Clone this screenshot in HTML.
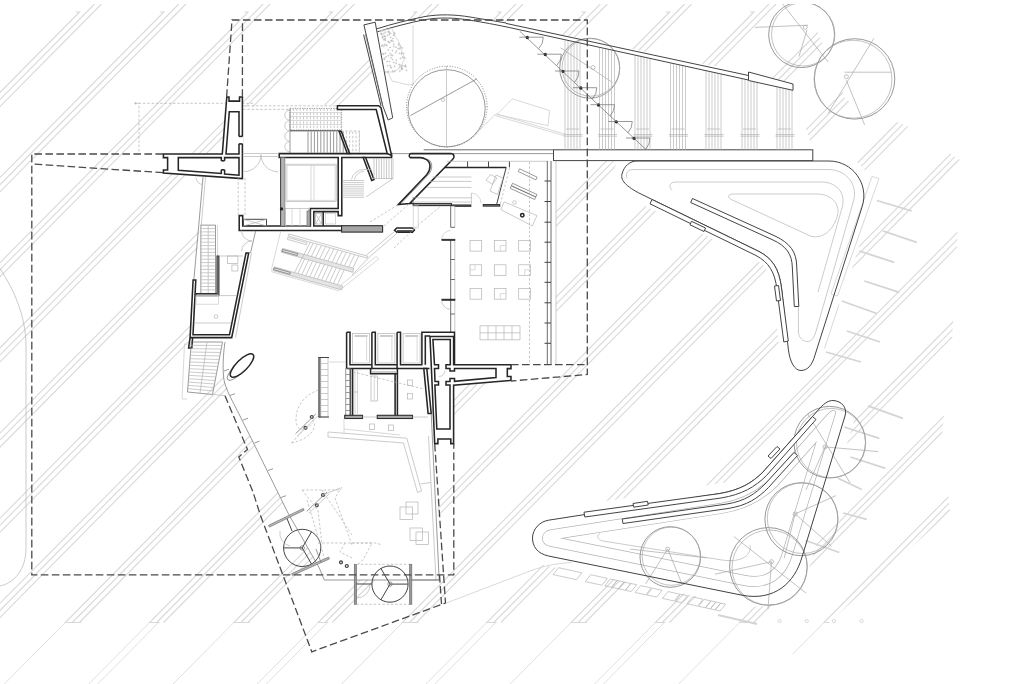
<!DOCTYPE html>
<html><head><meta charset="utf-8"><title>Plan</title>
<style>
html,body{margin:0;padding:0;background:#fff;}
body{width:1011px;height:684px;overflow:hidden;font-family:"Liberation Sans",sans-serif;}
svg{display:block;}
path,line,circle,rect,ellipse,polyline{fill:none;stroke-linecap:butt;stroke-linejoin:miter;}
.h{stroke:#d9d9d9;stroke-width:1.1;}
.h2{stroke:#e0e0e0;stroke-width:1;}
.mask{fill:#fff;stroke:none;}
.w{stroke:#262626;stroke-width:1.55;}
.wf{stroke:#262626;stroke-width:1.55;fill:#fff;}
.wg{stroke:#2e2e2e;stroke-width:1.1;fill:#a6a6a6;}
.m{stroke:#444;stroke-width:1;}
.mf{stroke:#444;stroke-width:1;fill:#fff;}
.t{stroke:#6e6e6e;stroke-width:.7;}
.t2{stroke:#5a5a5a;stroke-width:.9;}
.tf{stroke:#6e6e6e;stroke-width:.7;fill:#fff;}
.l{stroke:#b4b4b4;stroke-width:.7;}
.lf{stroke:#b4b4b4;stroke-width:.7;fill:#fff;}
.ll{stroke:#cfcfcf;stroke-width:.8;}
.pk{stroke:#d4d4d4;stroke-width:1.8;}
.d{stroke:#4a4a4a;stroke-width:1.3;stroke-dasharray:7.6 3.4;}
.dl{stroke:#b0b0b0;stroke-width:.7;stroke-dasharray:2.5 1.8;}
.dt{stroke:#7a7a7a;stroke-width:.9;stroke-dasharray:1 1.6;}
.tr{stroke:#7d7d7d;stroke-width:.8;}
.tr2{stroke:#a8a8a8;stroke-width:.7;}
</style></head>
<body><svg width="1011" height="684" viewBox="0 0 1011 684">
<rect x="0" y="0" width="1011" height="684" fill="#fff" stroke="none"/>
<defs><clipPath id="hc"><path d="M0,4 L806,4 L846,100 L909,127 L960,160 L957,250 L952,342 L942,434 L950,512 L796,653 L724,684 L0,684 Z"/></clipPath></defs>
<g clip-path="url(#hc)">
<path class="h" d="M75.6,12.0 L79.6,12.0 L-524.8,622.5 L-514.8,622.5" />
<line class="h2" x1="-524.8" y1="622.5" x2="-585.7" y2="684.0"/>
<line class="h" x1="94.5" y1="4.0" x2="-517.8" y2="622.5"/>
<line class="h" x1="101.5" y1="4.0" x2="-510.8" y2="622.5"/>
<line class="h2" x1="-515.8" y1="622.5" x2="-576.7" y2="684.0"/>
<path class="h" d="M159.9,12.0 L163.9,12.0 L-440.5,622.5 L-424.5,622.5" />
<line class="h2" x1="-440.5" y1="622.5" x2="-501.4" y2="684.0"/>
<line class="h" x1="178.8" y1="4.0" x2="-433.5" y2="622.5"/>
<line class="h" x1="185.8" y1="4.0" x2="-426.5" y2="622.5"/>
<path class="h" d="M244.2,12.0 L248.2,12.0 L-356.2,622.5 L-346.2,622.5" />
<line class="h2" x1="-356.2" y1="622.5" x2="-417.1" y2="684.0"/>
<line class="h" x1="263.1" y1="4.0" x2="-349.2" y2="622.5"/>
<line class="h" x1="270.1" y1="4.0" x2="-342.2" y2="622.5"/>
<line class="h2" x1="-347.2" y1="622.5" x2="-408.1" y2="684.0"/>
<path class="h" d="M328.5,12.0 L332.5,12.0 L-271.9,622.5 L-255.9,622.5" />
<line class="h2" x1="-271.9" y1="622.5" x2="-332.8" y2="684.0"/>
<line class="h" x1="347.4" y1="4.0" x2="-264.9" y2="622.5"/>
<line class="h" x1="354.4" y1="4.0" x2="-257.9" y2="622.5"/>
<path class="h" d="M412.8,12.0 L416.8,12.0 L-187.6,622.5 L-177.6,622.5" />
<line class="h2" x1="-187.6" y1="622.5" x2="-248.5" y2="684.0"/>
<line class="h" x1="431.7" y1="4.0" x2="-180.6" y2="622.5"/>
<line class="h" x1="438.7" y1="4.0" x2="-173.6" y2="622.5"/>
<line class="h2" x1="-178.6" y1="622.5" x2="-239.5" y2="684.0"/>
<path class="h" d="M497.1,12.0 L501.1,12.0 L-103.3,622.5 L-87.3,622.5" />
<line class="h2" x1="-103.3" y1="622.5" x2="-164.2" y2="684.0"/>
<line class="h" x1="516.0" y1="4.0" x2="-96.3" y2="622.5"/>
<line class="h" x1="523.0" y1="4.0" x2="-89.3" y2="622.5"/>
<path class="h" d="M581.4,12.0 L585.4,12.0 L-19.0,622.5 L-9.0,622.5" />
<line class="h2" x1="-19.0" y1="622.5" x2="-79.9" y2="684.0"/>
<line class="h" x1="600.3" y1="4.0" x2="-12.0" y2="622.5"/>
<line class="h" x1="607.3" y1="4.0" x2="-5.0" y2="622.5"/>
<line class="h2" x1="-10.0" y1="622.5" x2="-70.9" y2="684.0"/>
<path class="h" d="M665.7,12.0 L669.7,12.0 L65.3,622.5 L81.3,622.5" />
<line class="h2" x1="65.3" y1="622.5" x2="4.4" y2="684.0"/>
<line class="h" x1="684.6" y1="4.0" x2="72.3" y2="622.5"/>
<line class="h" x1="691.6" y1="4.0" x2="79.3" y2="622.5"/>
<path class="h" d="M750.0,12.0 L754.0,12.0 L149.6,622.5 L159.6,622.5" />
<line class="h2" x1="149.6" y1="622.5" x2="88.7" y2="684.0"/>
<line class="h" x1="768.9" y1="4.0" x2="156.6" y2="622.5"/>
<line class="h" x1="775.9" y1="4.0" x2="163.6" y2="622.5"/>
<line class="h2" x1="158.6" y1="622.5" x2="97.7" y2="684.0"/>
<path class="h" d="M834.3,12.0 L838.3,12.0 L233.9,622.5 L249.9,622.5" />
<line class="h2" x1="233.9" y1="622.5" x2="173.0" y2="684.0"/>
<line class="h" x1="853.2" y1="4.0" x2="240.9" y2="622.5"/>
<line class="h" x1="860.2" y1="4.0" x2="247.9" y2="622.5"/>
<path class="h" d="M918.6,12.0 L922.6,12.0 L318.2,622.5 L328.2,622.5" />
<line class="h2" x1="318.2" y1="622.5" x2="257.3" y2="684.0"/>
<line class="h" x1="937.5" y1="4.0" x2="325.2" y2="622.5"/>
<line class="h" x1="944.5" y1="4.0" x2="332.2" y2="622.5"/>
<line class="h2" x1="327.2" y1="622.5" x2="266.3" y2="684.0"/>
<path class="h" d="M1002.9,12.0 L1006.9,12.0 L402.5,622.5 L418.5,622.5" />
<line class="h2" x1="402.5" y1="622.5" x2="341.6" y2="684.0"/>
<line class="h" x1="1021.8" y1="4.0" x2="409.5" y2="622.5"/>
<line class="h" x1="1028.8" y1="4.0" x2="416.5" y2="622.5"/>
<path class="h" d="M1087.2,12.0 L1091.2,12.0 L486.8,622.5 L496.8,622.5" />
<line class="h2" x1="486.8" y1="622.5" x2="425.9" y2="684.0"/>
<line class="h" x1="1106.1" y1="4.0" x2="493.8" y2="622.5"/>
<line class="h" x1="1113.1" y1="4.0" x2="500.8" y2="622.5"/>
<line class="h2" x1="495.8" y1="622.5" x2="434.9" y2="684.0"/>
<path class="h" d="M1171.5,12.0 L1175.5,12.0 L571.1,622.5 L587.1,622.5" />
<line class="h2" x1="571.1" y1="622.5" x2="510.2" y2="684.0"/>
<line class="h" x1="1190.4" y1="4.0" x2="578.1" y2="622.5"/>
<line class="h" x1="1197.4" y1="4.0" x2="585.1" y2="622.5"/>
<path class="h" d="M1255.8,12.0 L1259.8,12.0 L655.4,622.5 L665.4,622.5" />
<line class="h2" x1="655.4" y1="622.5" x2="594.5" y2="684.0"/>
<line class="h" x1="1274.7" y1="4.0" x2="662.4" y2="622.5"/>
<line class="h" x1="1281.7" y1="4.0" x2="669.4" y2="622.5"/>
<line class="h2" x1="664.4" y1="622.5" x2="603.5" y2="684.0"/>
<path class="h" d="M1340.1,12.0 L1344.1,12.0 L739.7,622.5 L755.7,622.5" />
<line class="h2" x1="739.7" y1="622.5" x2="678.8" y2="684.0"/>
<line class="h" x1="1359.0" y1="4.0" x2="746.7" y2="622.5"/>
<line class="h" x1="1366.0" y1="4.0" x2="753.7" y2="622.5"/>
<path class="h" d="M1424.4,12.0 L1428.4,12.0 L824.0,622.5 L834.0,622.5" />
<line class="h2" x1="824.0" y1="622.5" x2="763.1" y2="684.0"/>
<line class="h" x1="1443.3" y1="4.0" x2="831.0" y2="622.5"/>
<line class="h" x1="1450.3" y1="4.0" x2="838.0" y2="622.5"/>
<line class="h2" x1="833.0" y1="622.5" x2="772.1" y2="684.0"/>
<path class="h" d="M1508.7,12.0 L1512.7,12.0 L908.3,622.5 L924.3,622.5" />
<line class="h2" x1="908.3" y1="622.5" x2="847.4" y2="684.0"/>
<line class="h" x1="1527.6" y1="4.0" x2="915.3" y2="622.5"/>
<line class="h" x1="1534.6" y1="4.0" x2="922.3" y2="622.5"/>
<path class="h" d="M1593.0,12.0 L1597.0,12.0 L992.6,622.5 L1002.6,622.5" />
<line class="h2" x1="992.6" y1="622.5" x2="931.7" y2="684.0"/>
<line class="h" x1="1611.9" y1="4.0" x2="999.6" y2="622.5"/>
<line class="h" x1="1618.9" y1="4.0" x2="1006.6" y2="622.5"/>
<line class="h2" x1="1001.6" y1="622.5" x2="940.7" y2="684.0"/>
</g>
<path class="mask" d="M163.0,153.5 L222.0,153.5 L227.0,96.0 L243.0,96.0 L243.0,107.0 L338.0,105.0 L378.0,105.0 L364.0,25.0 L375.0,22.0 L377.0,29.0 L400.0,21.0 L425.0,16.5 L450.0,15.0 L480.0,19.0 L506.0,23.0 L748.0,73.0 L793.0,84.0 L793.0,90.0 L813.0,150.0 L813.0,161.0 L556.0,161.0 L556.0,365.0 L511.0,365.0 L511.0,381.0 L454.0,385.0 L454.0,444.0 L436.0,444.0 L439.0,580.0 L324.0,580.0 L319.0,568.0 L288.0,513.0 L253.0,442.0 L224.0,380.0 L225.0,342.0 L190.0,342.0 L191.0,335.0 L194.0,280.0 L201.0,215.0 L203.0,177.0 L163.0,173.0 Z" />
<path class="mask" d="M637,161 L829,161 C852.6,161 869.4,184 862.2,206.5 L815,355 C812,366 807,370.5 801,370.5 C795,370.5 790,363 788.3,349 L781.5,288 C779,268 772,258 758,251 L644,195.5 C628,188 620,181 622,174 C624,166 630,161 637,161 Z" style="stroke:#fff;stroke-width:18;stroke-linejoin:round"/>
<defs><clipPath id="c1"><path d="M637,161 L829,161 C852.6,161 869.4,184 862.2,206.5 L815,355 C812,366 807,370.5 801,370.5 C795,370.5 790,363 788.3,349 L781.5,288 C779,268 772,258 758,251 L644,195.5 C628,188 620,181 622,174 C624,166 630,161 637,161 Z"/></clipPath><clipPath id="c2"><path d="M548.5,520.2 L720,493.5 C740,490 752,483 763,472 L820,408 C825,402.5 829,400.5 833,400.5 C842,401 847.5,408 845,416 L802,557 C795,582 775,602 741,595 L548.5,556 C537,553.5 532.5,546 532.5,538 C532.5,529 540,521.5 548.5,520.2 Z"/></clipPath></defs>
<path class="l" d="M627,178.5 C625,172 628,169.5 634,169.5 L829,169.5 C847,170 858,185 853.5,201 L815.5,333 C813,340 810.5,341.5 807.5,341.5 C803,341.5 798.5,338 798.4,331 L798.4,306.5" />
<path class="l" d="M672,190.5 C668,186 670,182 676,182 L823,182 C838,183 846,194 842,208 L818,292" />
<path class="l" d="M731.5,199.6 C727,197.5 728,194 733,194 L818,194 C833,195 841,205 837,217 C833,230 823,239 811,236.3 Z" />
<path class="ll" d="M872.0,176.5 L879.0,178.5 L837.5,296.0 L831.0,294.0 Z" />
<line class="ll" x1="839.0" y1="304.5" x2="824.5" y2="348.5"/>
<line class="pk" x1="876.8" y1="200.5" x2="911.8" y2="211.0"/>
<line class="pk" x1="883.0" y1="231.0" x2="916.8" y2="242.3"/>
<line class="pk" x1="859.3" y1="251.0" x2="894.3" y2="262.3"/>
<line class="pk" x1="864.3" y1="281.0" x2="899.3" y2="292.3"/>
<line class="pk" x1="841.8" y1="301.0" x2="876.8" y2="313.5"/>
<line class="pk" x1="846.8" y1="331.0" x2="880.0" y2="342.0"/>
<line class="pk" x1="826.0" y1="352.0" x2="861.0" y2="362.0"/>
<path class="mask" d="M548.5,520.2 L720,493.5 C740,490 752,483 763,472 L820,408 C825,402.5 829,400.5 833,400.5 C842,401 847.5,408 845,416 L802,557 C795,582 775,602 741,595 L548.5,556 C537,553.5 532.5,546 532.5,538 C532.5,529 540,521.5 548.5,520.2 Z" style="stroke:#fff;stroke-width:20;stroke-linejoin:round"/>
<g clip-path="url(#c2)">
<path class="l" d="M548.5,520.2 L720,493.5 C740,490 752,483 763,472 L820,408 C825,402.5 829,400.5 833,400.5 C842,401 847.5,408 845,416 L802,557 C795,582 775,602 741,595 L548.5,556 C537,553.5 532.5,546 532.5,538 C532.5,529 540,521.5 548.5,520.2 Z" style="stroke-width:40.7;stroke-linejoin:round"/>
<path class="l" d="M548.5,520.2 L720,493.5 C740,490 752,483 763,472 L820,408 C825,402.5 829,400.5 833,400.5 C842,401 847.5,408 845,416 L802,557 C795,582 775,602 741,595 L548.5,556 C537,553.5 532.5,546 532.5,538 C532.5,529 540,521.5 548.5,520.2 Z" style="stroke:#fff;stroke-width:39.3;stroke-linejoin:round"/>
<path class="l" d="M548.5,520.2 L720,493.5 C740,490 752,483 763,472 L820,408 C825,402.5 829,400.5 833,400.5 C842,401 847.5,408 845,416 L802,557 C795,582 775,602 741,595 L548.5,556 C537,553.5 532.5,546 532.5,538 C532.5,529 540,521.5 548.5,520.2 Z" style="stroke-width:20.3;stroke-linejoin:round"/>
<path class="l" d="M548.5,520.2 L720,493.5 C740,490 752,483 763,472 L820,408 C825,402.5 829,400.5 833,400.5 C842,401 847.5,408 845,416 L802,557 C795,582 775,602 741,595 L548.5,556 C537,553.5 532.5,546 532.5,538 C532.5,529 540,521.5 548.5,520.2 Z" style="stroke:#fff;stroke-width:18.9;stroke-linejoin:round"/>
</g>
<path class="l" d="M600,534 C596,535 597,540 603,541 L722,560 C742,563 752,555 750,545" />
<line class="pk" x1="868.0" y1="405.8" x2="903.0" y2="418.3"/>
<line class="pk" x1="844.3" y1="427.0" x2="879.3" y2="438.3"/>
<line class="pk" x1="850.5" y1="457.0" x2="885.5" y2="468.3"/>
<line class="pk" x1="838.0" y1="478.3" x2="861.8" y2="489.5"/>
<line class="pk" x1="843.0" y1="513.0" x2="866.8" y2="519.3"/>
<line class="pk" x1="805.5" y1="540.5" x2="839.3" y2="552.5"/>
<circle class="tr" cx="801.6" cy="34.7" r="32.9" />
<circle class="tr2" cx="803.2" cy="34.3" r="31.7" />
<circle class="tr2" cx="805.2" cy="27.4" r="2.0" />
<line class="tr2" x1="755.0" y1="27.4" x2="808.0" y2="25.2"/>
<line class="tr2" x1="782.4" y1="3.7" x2="828.1" y2="62.1"/>
<line class="tr2" x1="807.0" y1="30.0" x2="798.9" y2="56.6"/>
<circle class="tr" cx="854.6" cy="78.9" r="40.2" />
<circle class="tr2" cx="853.0" cy="79.2" r="39.0" />
<circle class="tr2" cx="846.4" cy="76.7" r="2.0" />
<line class="tr2" x1="844.5" y1="72.2" x2="891.1" y2="72.2"/>
<line class="tr2" x1="873.8" y1="38.4" x2="828.1" y2="113.3"/>
<line class="tr2" x1="846.4" y1="80.4" x2="864.6" y2="124.8"/>
<circle class="tr" cx="589.7" cy="68.2" r="30.0" />
<circle class="tr2" cx="590.9" cy="67.4" r="28.8" />
<circle class="tr2" cx="593.0" cy="67.5" r="2.0" />
<line class="tr2" x1="560.5" y1="47.8" x2="613.0" y2="82.8"/>
<circle class="tr" cx="670.3" cy="557.0" r="30.3" />
<circle class="tr2" cx="671.3" cy="556.2" r="29.1" />
<circle class="tr2" cx="667.7" cy="549.1" r="2.0" />
<line class="tr2" x1="630.0" y1="549.1" x2="707.0" y2="557.9"/>
<line class="tr2" x1="667.7" y1="549.1" x2="645.7" y2="583.7"/>
<line class="tr2" x1="667.7" y1="549.1" x2="681.9" y2="583.7"/>
<circle class="tr" cx="768.4" cy="566.4" r="38.8" />
<circle class="tr2" cx="769.6" cy="567.6" r="37.6" />
<circle class="tr2" cx="771.5" cy="561.7" r="2.0" />
<line class="tr2" x1="733.8" y1="536.5" x2="806.1" y2="593.1"/>
<line class="tr2" x1="771.5" y1="561.7" x2="714.9" y2="574.2"/>
<line class="tr2" x1="771.5" y1="561.7" x2="768.0" y2="609.0"/>
<circle class="tr" cx="801.4" cy="519.2" r="36.5" />
<circle class="tr2" cx="802.6" cy="518.2" r="35.3" />
<circle class="tr2" cx="795.1" cy="513.9" r="2.0" />
<line class="tr2" x1="795.1" y1="513.9" x2="836.0" y2="495.6"/>
<line class="tr2" x1="795.1" y1="513.9" x2="831.3" y2="546.0"/>
<line class="tr2" x1="795.1" y1="513.9" x2="784.1" y2="558.5"/>
<circle class="tr" cx="829.7" cy="442.2" r="35.8" />
<circle class="tr2" cx="831.1" cy="443.0" r="34.6" />
<circle class="tr2" cx="825.0" cy="446.9" r="2.0" />
<line class="tr2" x1="807.7" y1="413.9" x2="850.1" y2="483.0"/>
<line class="tr2" x1="825.0" y1="446.9" x2="878.4" y2="451.6"/>
<line class="tr2" x1="825.0" y1="446.9" x2="806.0" y2="490.0"/>
<rect class="mask" x="0.0" y="0.0" width="1011.0" height="4.0" />
<path class="m" d="M637,161 L829,161 C852.6,161 869.4,184 862.2,206.5 L815,355 C812,366 807,370.5 801,370.5 C795,370.5 790,363 788.3,349 L781.5,288 C779,268 772,258 758,251 L644,195.5 C628,188 620,181 622,174 C624,166 630,161 637,161 Z" />
<path class="m" d="M548.5,520.2 L720,493.5 C740,490 752,483 763,472 L820,408 C825,402.5 829,400.5 833,400.5 C842,401 847.5,408 845,416 L802,557 C795,582 775,602 741,595 L548.5,556 C537,553.5 532.5,546 532.5,538 C532.5,529 540,521.5 548.5,520.2 Z" />
<path class="mf" d="M652,199.5 L758,251 C772,258 779,268 781.5,288 L788.3,341 L783.8,342 L777,290 C775,272 769,262.5 756,255.5 L650,203.8 Z" />
<path class="mf" d="M692.5,198.5 L775,236 C790,243 796.5,252 796.7,266 L798.8,306.5 L794.3,306.5 L792.3,267 C792,254 786,246 773,240 L690.7,202.5 Z" />
<path class="mf" d="M691.5,221.3 L705.5,228.0 L704.0,231.5 L690.0,224.8 Z" />
<path class="mf" d="M774.5,286.0 L778.5,285.5 L780.5,300.5 L776.5,301.0 Z" />
<path class="mf" d="M584,512.2 L720,493.5 C740,490 752,483 763,472 L812.5,416.5 L816,419.5 L766.5,475.5 C755,487 742,494.5 721,498 L584.8,517 Z" />
<path class="mf" d="M622.2,519 L727,504 C745,501 755,494 765,484 L794,452.5 L797.5,455.5 L768.5,487.5 C757.5,498.5 747,505.5 728,508.5 L623,523.5 Z" />
<path class="mf" d="M633.0,503.5 L647.5,501.3 L648.2,505.0 L633.7,507.2 Z" />
<path class="mf" d="M768.0,456.0 L777.0,446.5 L780.0,449.0 L771.0,458.5 Z" />
<path class="l" d="M558.5,567.7 L581.9,572.8 L576.5,579.7 L553.0,574.6 Z" />
<path class="l" d="M590.7,574.7 L607.4,578.4 L601.9,585.2 L585.3,581.6 Z" />
<path class="l" d="M610.3,579.0 L617.1,580.5 L611.7,587.3 L604.8,585.9 Z" />
<path class="l" d="M617.1,580.5 L624.0,582.0 L618.5,588.8 L611.7,587.3 Z" />
<path class="l" d="M624.0,582.0 L630.8,583.5 L625.3,590.3 L618.5,588.8 Z" />
<path class="l" d="M630.8,583.5 L636.7,584.7 L631.2,591.6 L625.3,590.3 Z" />
<path class="l" d="M640.6,585.6 L651.3,587.9 L645.9,594.8 L635.1,592.5 Z" />
<path class="l" d="M652.3,588.2 L662.1,590.3 L656.6,597.1 L646.8,595.0 Z" />
<path class="l" d="M667.9,591.6 L679.7,594.1 L674.2,601.0 L662.5,598.4 Z" />
<path class="l" d="M680.6,594.3 L687.5,595.8 L682.0,602.7 L675.2,601.2 Z" />
<path class="l" d="M692.4,596.9 L703.1,599.2 L697.6,606.1 L686.9,603.7 Z" />
<path class="l" d="M704.1,599.4 L710.9,600.9 L705.5,607.8 L698.6,606.3 Z" />
<path class="l" d="M710.9,600.9 L715.8,602.0 L710.3,608.9 L705.5,607.8 Z" />
<path class="l" d="M715.8,602.0 L720.7,603.1 L715.2,609.9 L710.3,608.9 Z" />
<path class="l" d="M720.7,603.1 L725.6,604.1 L720.1,611.0 L715.2,609.9 Z" />
<line class="pk" x1="718.0" y1="615.0" x2="757.0" y2="624.0"/>
<circle class="ll" cx="779.5" cy="621.0" r="1.6" />
<circle class="ll" cx="806.7" cy="621.0" r="1.6" />
<circle class="ll" cx="834.0" cy="621.0" r="1.6" />
<circle class="ll" cx="861.5" cy="621.0" r="1.6" />
<rect class="mf" x="553.5" y="149.8" width="259.3" height="10.8" />
<line class="t2" x1="423.7" y1="149.8" x2="553.5" y2="149.8"/>
<line class="t" x1="391.0" y1="153.6" x2="553.5" y2="153.6"/>
<line class="l" x1="565.0" y1="40.7" x2="565.0" y2="149.8"/>
<line class="l" x1="568.0" y1="41.3" x2="568.0" y2="149.8"/>
<line class="l" x1="571.0" y1="41.9" x2="571.0" y2="149.8"/>
<line class="l" x1="574.0" y1="42.6" x2="574.0" y2="149.8"/>
<line class="l" x1="577.0" y1="43.2" x2="577.0" y2="149.8"/>
<line class="l" x1="580.0" y1="43.9" x2="580.0" y2="149.8"/>
<line class="l" x1="563.5" y1="134.5" x2="582.5" y2="134.5"/>
<line class="l" x1="563.5" y1="136.2" x2="582.5" y2="136.2"/>
<line class="l" x1="566.0" y1="129.0" x2="579.0" y2="129.0"/>
<line class="l" x1="599.5" y1="48.0" x2="599.5" y2="149.8"/>
<line class="l" x1="602.5" y1="48.7" x2="602.5" y2="149.8"/>
<line class="l" x1="605.5" y1="49.3" x2="605.5" y2="149.8"/>
<line class="l" x1="608.5" y1="50.0" x2="608.5" y2="149.8"/>
<line class="l" x1="611.5" y1="50.6" x2="611.5" y2="149.8"/>
<line class="l" x1="614.5" y1="51.3" x2="614.5" y2="149.8"/>
<line class="l" x1="598.0" y1="134.5" x2="617.0" y2="134.5"/>
<line class="l" x1="598.0" y1="136.2" x2="617.0" y2="136.2"/>
<line class="l" x1="600.5" y1="129.0" x2="613.5" y2="129.0"/>
<line class="l" x1="635.0" y1="55.7" x2="635.0" y2="149.8"/>
<line class="l" x1="638.0" y1="56.3" x2="638.0" y2="149.8"/>
<line class="l" x1="641.0" y1="56.9" x2="641.0" y2="149.8"/>
<line class="l" x1="644.0" y1="57.6" x2="644.0" y2="149.8"/>
<line class="l" x1="647.0" y1="58.2" x2="647.0" y2="149.8"/>
<line class="l" x1="650.0" y1="58.9" x2="650.0" y2="149.8"/>
<line class="l" x1="633.5" y1="134.5" x2="652.5" y2="134.5"/>
<line class="l" x1="633.5" y1="136.2" x2="652.5" y2="136.2"/>
<line class="l" x1="636.0" y1="129.0" x2="649.0" y2="129.0"/>
<line class="l" x1="670.5" y1="63.3" x2="670.5" y2="149.8"/>
<line class="l" x1="673.5" y1="63.9" x2="673.5" y2="149.8"/>
<line class="l" x1="676.5" y1="64.6" x2="676.5" y2="149.8"/>
<line class="l" x1="679.5" y1="65.2" x2="679.5" y2="149.8"/>
<line class="l" x1="682.5" y1="65.8" x2="682.5" y2="149.8"/>
<line class="l" x1="685.5" y1="66.5" x2="685.5" y2="149.8"/>
<line class="l" x1="669.0" y1="134.5" x2="688.0" y2="134.5"/>
<line class="l" x1="669.0" y1="136.2" x2="688.0" y2="136.2"/>
<line class="l" x1="671.5" y1="129.0" x2="684.5" y2="129.0"/>
<line class="l" x1="706.0" y1="70.9" x2="706.0" y2="149.8"/>
<line class="l" x1="709.0" y1="71.5" x2="709.0" y2="149.8"/>
<line class="l" x1="712.0" y1="72.2" x2="712.0" y2="149.8"/>
<line class="l" x1="715.0" y1="72.8" x2="715.0" y2="149.8"/>
<line class="l" x1="718.0" y1="73.5" x2="718.0" y2="149.8"/>
<line class="l" x1="721.0" y1="74.1" x2="721.0" y2="149.8"/>
<line class="l" x1="704.5" y1="134.5" x2="723.5" y2="134.5"/>
<line class="l" x1="704.5" y1="136.2" x2="723.5" y2="136.2"/>
<line class="l" x1="707.0" y1="129.0" x2="720.0" y2="129.0"/>
<line class="l" x1="742.0" y1="78.6" x2="742.0" y2="149.8"/>
<line class="l" x1="745.0" y1="79.2" x2="745.0" y2="149.8"/>
<line class="l" x1="748.0" y1="79.9" x2="748.0" y2="149.8"/>
<line class="l" x1="751.0" y1="80.5" x2="751.0" y2="149.8"/>
<line class="l" x1="754.0" y1="81.2" x2="754.0" y2="149.8"/>
<line class="l" x1="757.0" y1="81.8" x2="757.0" y2="149.8"/>
<line class="l" x1="740.5" y1="134.5" x2="759.5" y2="134.5"/>
<line class="l" x1="740.5" y1="136.2" x2="759.5" y2="136.2"/>
<line class="l" x1="743.0" y1="129.0" x2="756.0" y2="129.0"/>
<line class="l" x1="777.0" y1="86.1" x2="777.0" y2="149.8"/>
<line class="l" x1="780.0" y1="86.8" x2="780.0" y2="149.8"/>
<line class="l" x1="783.0" y1="87.4" x2="783.0" y2="149.8"/>
<line class="l" x1="786.0" y1="88.0" x2="786.0" y2="149.8"/>
<line class="l" x1="789.0" y1="88.7" x2="789.0" y2="149.8"/>
<line class="l" x1="792.0" y1="89.3" x2="792.0" y2="149.8"/>
<line class="l" x1="775.5" y1="134.5" x2="794.5" y2="134.5"/>
<line class="l" x1="775.5" y1="136.2" x2="794.5" y2="136.2"/>
<line class="l" x1="778.0" y1="129.0" x2="791.0" y2="129.0"/>
<path class="m" d="M506.0,23.4 L748.5,75.5" />
<path class="m" d="M506.0,26.8 L748.5,80.0" />
<path class="mf" d="M748.5,72.0 L793.0,84.0 L793.0,90.3 L748.5,80.5 Z" />
<path class="m" d="M376.8,28.8 C392,24 410,19.5 425,16.5 C440,14 455,14.5 470,17 C485,19.5 495,21 506,23" />
<path class="m" d="M377.4,31.8 C392,27.2 410,22.6 425,19.6 C440,17.2 455,17.6 470,20.2 C485,22.6 495,24.6 506,26.8" />
<circle class="l" cx="384.3" cy="44.6" r="0.5" />
<circle class="l" cx="384.5" cy="58.3" r="0.5" />
<circle class="l" cx="390.3" cy="53.5" r="0.5" />
<circle class="l" cx="390.5" cy="33.4" r="0.5" />
<circle class="l" cx="388.8" cy="32.6" r="0.5" />
<circle class="l" cx="381.4" cy="33.9" r="0.5" />
<circle class="l" cx="399.7" cy="48.8" r="0.5" />
<circle class="l" cx="384.7" cy="36.2" r="0.5" />
<circle class="l" cx="403.6" cy="57.4" r="0.5" />
<circle class="l" cx="391.2" cy="55.2" r="0.5" />
<circle class="l" cx="385.9" cy="72.0" r="0.5" />
<circle class="l" cx="390.5" cy="67.1" r="0.5" />
<circle class="l" cx="382.5" cy="37.1" r="0.5" />
<circle class="l" cx="398.8" cy="44.0" r="0.5" />
<circle class="l" cx="392.9" cy="38.6" r="0.5" />
<circle class="l" cx="391.0" cy="57.8" r="0.5" />
<circle class="l" cx="383.7" cy="54.0" r="0.5" />
<circle class="l" cx="383.9" cy="33.5" r="0.5" />
<circle class="l" cx="392.5" cy="59.6" r="0.5" />
<circle class="l" cx="393.8" cy="44.2" r="0.5" />
<circle class="l" cx="388.3" cy="50.0" r="0.5" />
<circle class="l" cx="399.1" cy="64.4" r="0.5" />
<circle class="l" cx="393.1" cy="41.3" r="0.5" />
<circle class="l" cx="401.4" cy="53.1" r="0.5" />
<circle class="l" cx="389.7" cy="61.6" r="0.5" />
<circle class="l" cx="387.5" cy="72.2" r="0.5" />
<circle class="l" cx="398.2" cy="48.6" r="0.5" />
<circle class="l" cx="390.7" cy="37.4" r="0.5" />
<circle class="l" cx="393.9" cy="32.6" r="0.5" />
<circle class="l" cx="396.2" cy="63.1" r="0.5" />
<circle class="l" cx="391.2" cy="67.8" r="0.5" />
<circle class="l" cx="396.2" cy="60.2" r="0.5" />
<circle class="l" cx="392.5" cy="55.4" r="0.5" />
<circle class="l" cx="404.8" cy="66.3" r="0.5" />
<circle class="l" cx="396.5" cy="50.9" r="0.5" />
<circle class="l" cx="394.8" cy="33.5" r="0.5" />
<circle class="l" cx="404.7" cy="58.2" r="0.5" />
<circle class="l" cx="390.2" cy="65.5" r="0.5" />
<circle class="l" cx="396.0" cy="47.2" r="0.5" />
<circle class="l" cx="389.3" cy="31.9" r="0.5" />
<circle class="l" cx="382.6" cy="38.1" r="0.5" />
<circle class="l" cx="385.2" cy="36.4" r="0.5" />
<circle class="l" cx="400.5" cy="47.4" r="0.5" />
<circle class="l" cx="389.4" cy="34.4" r="0.5" />
<circle class="l" cx="401.7" cy="54.1" r="0.5" />
<circle class="l" cx="402.9" cy="65.4" r="0.5" />
<circle class="l" cx="389.8" cy="42.7" r="0.5" />
<circle class="l" cx="400.6" cy="46.1" r="0.5" />
<circle class="l" cx="388.1" cy="71.2" r="0.5" />
<circle class="l" cx="385.2" cy="38.4" r="0.5" />
<circle class="l" cx="391.1" cy="40.8" r="0.5" />
<circle class="l" cx="388.3" cy="55.7" r="0.5" />
<circle class="l" cx="388.2" cy="31.2" r="0.5" />
<circle class="l" cx="393.7" cy="46.5" r="0.5" />
<circle class="l" cx="399.9" cy="71.0" r="0.5" />
<circle class="l" cx="395.7" cy="52.7" r="0.5" />
<circle class="l" cx="384.2" cy="59.4" r="0.5" />
<circle class="l" cx="401.6" cy="68.8" r="0.5" />
<circle class="l" cx="401.8" cy="67.7" r="0.5" />
<circle class="l" cx="390.1" cy="47.5" r="0.5" />
<circle class="l" cx="393.6" cy="35.3" r="0.5" />
<circle class="l" cx="380.9" cy="33.6" r="0.5" />
<circle class="l" cx="383.8" cy="39.8" r="0.5" />
<circle class="l" cx="382.2" cy="45.3" r="0.5" />
<circle class="l" cx="382.3" cy="31.0" r="0.5" />
<circle class="l" cx="387.6" cy="35.3" r="0.5" />
<circle class="l" cx="386.0" cy="56.8" r="0.5" />
<circle class="l" cx="388.2" cy="41.6" r="0.5" />
<circle class="l" cx="383.9" cy="46.3" r="0.5" />
<circle class="l" cx="405.9" cy="66.7" r="0.5" />
<circle class="l" cx="392.4" cy="50.6" r="0.5" />
<circle class="l" cx="381.8" cy="34.6" r="0.5" />
<circle class="l" cx="386.9" cy="45.4" r="0.5" />
<circle class="l" cx="387.5" cy="65.8" r="0.5" />
<circle class="l" cx="385.4" cy="53.2" r="0.5" />
<circle class="l" cx="382.9" cy="53.8" r="0.5" />
<circle class="l" cx="403.7" cy="53.2" r="0.5" />
<circle class="l" cx="399.5" cy="67.3" r="0.5" />
<circle class="l" cx="388.6" cy="42.0" r="0.5" />
<circle class="l" cx="399.3" cy="53.4" r="0.5" />
<circle class="l" cx="385.9" cy="44.8" r="0.5" />
<circle class="l" cx="405.5" cy="65.1" r="0.5" />
<circle class="l" cx="401.8" cy="66.8" r="0.5" />
<circle class="l" cx="400.2" cy="65.4" r="0.5" />
<circle class="l" cx="391.7" cy="40.5" r="0.5" />
<circle class="l" cx="381.8" cy="45.9" r="0.5" />
<circle class="l" cx="385.3" cy="32.2" r="0.5" />
<circle class="l" cx="394.6" cy="71.2" r="0.5" />
<circle class="l" cx="406.4" cy="70.4" r="0.5" />
<circle class="l" cx="392.8" cy="71.1" r="0.5" />
<circle class="l" cx="385.3" cy="40.3" r="0.5" />
<circle class="l" cx="384.7" cy="39.3" r="0.5" />
<circle class="l" cx="402.6" cy="57.2" r="0.5" />
<circle class="l" cx="394.6" cy="66.3" r="0.5" />
<circle class="l" cx="400.5" cy="58.4" r="0.5" />
<circle class="l" cx="394.0" cy="34.6" r="0.5" />
<circle class="l" cx="401.7" cy="69.2" r="0.5" />
<circle class="l" cx="394.0" cy="62.5" r="0.5" />
<circle class="l" cx="398.6" cy="45.0" r="0.5" />
<circle class="l" cx="393.5" cy="71.8" r="0.5" />
<circle class="l" cx="402.2" cy="47.9" r="0.5" />
<circle class="l" cx="387.1" cy="61.4" r="0.5" />
<circle class="l" cx="383.1" cy="36.3" r="0.5" />
<circle class="l" cx="402.2" cy="69.0" r="0.5" />
<path class="ll" d="M379.0,31.0 L392.0,28.5 L395.0,36.0 L399.0,42.0 L402.0,52.0 L405.0,58.0 L401.0,66.0 L397.0,70.0 L392.0,72.0 L388.0,72.0" />
<path class="ll" d="M388.0,72.0 L392.0,81.0 L409.0,85.0 L413.0,84.0" />
<line class="ll" x1="413.0" y1="25.0" x2="413.0" y2="85.0"/>
<path class="ll" d="M512.4,98.8 L549.6,110.6 L548.0,125.7 L497.0,114.5 Z" />
<path class="ll" d="M480.0,129.6 L495.8,113.8" />
<path class="ll" d="M495.0,115.5 L565.4,136.0" />
<path class="ll" d="M495.8,113.8 L565.4,134.2" />
<circle class="dt" cx="446.8" cy="106.5" r="40.3" />
<circle class="t" cx="446.6" cy="108.3" r="38.6" />
<line class="l" x1="446.5" y1="66.0" x2="446.5" y2="148.0"/>
<line class="t" x1="410.5" y1="115.5" x2="477.0" y2="78.8"/>
<circle class="l" cx="443.0" cy="100.0" r="1.6" />
<line class="t" x1="519.8" y1="31.3" x2="646.0" y2="149.5"/>
<circle class="w" cx="527.3" cy="37.5" r="0.9" />
<line class="t" x1="519.3" y1="37.2" x2="543.3" y2="37.2"/>
<path class="t" d="M543.3,37.2 A16,16 0 0 1 538.8,48.5" />
<circle class="w" cx="545.3" cy="54.5" r="0.9" />
<line class="t" x1="537.3" y1="54.2" x2="561.3" y2="54.2"/>
<path class="t" d="M561.3,54.2 A16,16 0 0 1 556.8,65.5" />
<circle class="w" cx="563.0" cy="71.3" r="0.9" />
<line class="t" x1="555.0" y1="71.0" x2="579.0" y2="71.0"/>
<path class="t" d="M579.0,71.0 A16,16 0 0 1 574.5,82.3" />
<circle class="w" cx="580.8" cy="88.0" r="0.9" />
<line class="t" x1="572.8" y1="87.7" x2="596.8" y2="87.7"/>
<path class="t" d="M596.8,87.7 A16,16 0 0 1 592.3,99.0" />
<circle class="w" cx="598.5" cy="105.0" r="0.9" />
<line class="t" x1="590.5" y1="104.7" x2="614.5" y2="104.7"/>
<path class="t" d="M614.5,104.7 A16,16 0 0 1 610.0,116.0" />
<circle class="w" cx="616.3" cy="121.8" r="0.9" />
<line class="t" x1="608.3" y1="121.5" x2="632.3" y2="121.5"/>
<path class="t" d="M632.3,121.5 A16,16 0 0 1 627.8,132.8" />
<circle class="w" cx="634.0" cy="138.3" r="0.9" />
<line class="t" x1="626.0" y1="138.0" x2="650.0" y2="138.0"/>
<path class="t" d="M650.0,138.0 A16,16 0 0 1 645.5,149.3" />
<path class="mf" d="M363.9,24.9 L375.2,22.2 L392.7,117.8 L388.2,120.0 L382.8,106.0 Z" />
<path class="m" d="M363.6,34.6 L381.0,106.0" />
<path class="t" d="M365.3,34.0 L382.6,105.5" />
<rect class="t" x="290.0" y="108.4" width="51.6" height="21.6" stroke-dasharray="1.2 1.2"/>
<line class="dl" x1="293.4" y1="108.4" x2="293.4" y2="130.0"/>
<line class="dl" x1="296.8" y1="108.4" x2="296.8" y2="130.0"/>
<line class="dl" x1="300.2" y1="108.4" x2="300.2" y2="130.0"/>
<line class="dl" x1="303.6" y1="108.4" x2="303.6" y2="130.0"/>
<line class="dl" x1="307.0" y1="108.4" x2="307.0" y2="130.0"/>
<line class="dl" x1="310.4" y1="108.4" x2="310.4" y2="130.0"/>
<line class="dl" x1="313.8" y1="108.4" x2="313.8" y2="130.0"/>
<line class="dl" x1="317.2" y1="108.4" x2="317.2" y2="130.0"/>
<line class="dl" x1="320.6" y1="108.4" x2="320.6" y2="130.0"/>
<line class="dl" x1="324.0" y1="108.4" x2="324.0" y2="130.0"/>
<line class="dl" x1="327.4" y1="108.4" x2="327.4" y2="130.0"/>
<line class="dl" x1="330.8" y1="108.4" x2="330.8" y2="130.0"/>
<line class="dl" x1="334.2" y1="108.4" x2="334.2" y2="130.0"/>
<line class="dl" x1="337.6" y1="108.4" x2="337.6" y2="130.0"/>
<line class="dl" x1="341.0" y1="108.4" x2="341.0" y2="130.0"/>
<line class="ll" x1="290.0" y1="112.5" x2="341.6" y2="112.5"/>
<line class="ll" x1="290.0" y1="116.5" x2="341.6" y2="116.5"/>
<line class="ll" x1="290.0" y1="120.5" x2="341.6" y2="120.5"/>
<line class="ll" x1="290.0" y1="124.5" x2="341.6" y2="124.5"/>
<line class="t" x1="290.0" y1="108.4" x2="290.0" y2="153.4"/>
<line class="m" x1="290.0" y1="130.8" x2="341.0" y2="130.8"/>
<path class="dl" d="M341.0,131.0 L359.5,131.0 L359.5,152.4" />
<line class="t" x1="308.0" y1="131.5" x2="308.0" y2="152.6"/>
<line class="t" x1="311.2" y1="131.5" x2="311.2" y2="152.6"/>
<line class="t" x1="314.4" y1="131.5" x2="314.4" y2="152.6"/>
<line class="t" x1="317.6" y1="131.5" x2="317.6" y2="152.6"/>
<line class="t" x1="320.8" y1="131.5" x2="320.8" y2="152.6"/>
<line class="t" x1="324.0" y1="131.5" x2="324.0" y2="152.6"/>
<line class="t" x1="327.2" y1="131.5" x2="327.2" y2="152.6"/>
<line class="t" x1="330.4" y1="131.5" x2="330.4" y2="152.6"/>
<line class="t" x1="333.6" y1="131.5" x2="333.6" y2="152.6"/>
<line class="t" x1="336.8" y1="131.5" x2="336.8" y2="152.6"/>
<line class="t" x1="340.0" y1="131.5" x2="340.0" y2="152.6"/>
<line class="t" x1="343.2" y1="131.5" x2="343.2" y2="152.6"/>
<line class="dl" x1="346.4" y1="131.5" x2="346.4" y2="152.6"/>
<line class="dl" x1="349.6" y1="131.5" x2="349.6" y2="152.6"/>
<line class="dl" x1="352.8" y1="131.5" x2="352.8" y2="152.6"/>
<line class="dl" x1="356.0" y1="131.5" x2="356.0" y2="152.6"/>
<line class="dl" x1="359.2" y1="131.5" x2="359.2" y2="152.6"/>
<path class="l" d="M290,110.0 a5.2,5.2 0 0 0 0,10.4" />
<path class="l" d="M290,120.5 a5.2,5.2 0 0 0 0,10.4" />
<path class="l" d="M290,131.0 a5.2,5.2 0 0 0 0,10.4" />
<path class="l" d="M290,141.5 a5.2,5.2 0 0 0 0,10.4" />
<path class="dl" d="M253.0,103.3 L135.0,103.3 L139.0,103.3 L139.0,153.0" />
<line class="dl" x1="243.0" y1="105.8" x2="340.0" y2="105.8"/>
<line class="dl" x1="243.0" y1="109.4" x2="291.0" y2="109.4"/>
<circle class="l" cx="135.5" cy="103.3" r="0.8" />
<path class="wf" d="M163.4,153.9 L222.3,153.9 L226.8,96.9 L229.0,96.9 L229.0,101.1 L239.5,101.1 L239.5,96.9 L242.4,96.9 L242.4,178.6 L163.4,173.0 L163.4,170.0 L167.6,170.0 L167.6,157.6 L163.4,157.6 Z" />
<path class="wf" d="M229.3,111.8 L239.0,111.8 L239.0,153.9 L226.0,153.9 Z" />
<path class="wf" d="M178.3,157.6 L221.3,157.6 L221.3,173.4 L178.3,170.3 Z" />
<path class="wf" d="M224.6,157.6 L239.0,157.6 L239.0,175.2 L224.6,174.0 Z" />
<rect class="mask" x="219.5" y="160.8" width="7.0" height="9.0" />
<line class="w" x1="221.3" y1="160.8" x2="224.6" y2="160.8"/>
<line class="w" x1="221.3" y1="169.8" x2="224.6" y2="169.8"/>
<rect class="mask" x="238.0" y="136.6" width="5.5" height="7.2" />
<line class="w" x1="239.0" y1="136.4" x2="242.4" y2="136.4"/>
<line class="w" x1="239.0" y1="143.9" x2="242.4" y2="143.9"/>
<path class="wf" d="M279.2,153.6 L391.5,153.6 L391.5,157.4 L341.8,157.4 L341.8,215.6 L338.2,215.6 L338.2,211.6 L313.8,211.6 L313.8,226.0 L341.8,226.0 L341.8,230.5 L239.2,230.5 L239.2,215.6 L242.7,215.6 L242.7,226.0 L310.4,226.0 L310.4,208.4 L338.2,208.4 L338.2,157.4 L279.2,157.4 Z" />
<line class="w" x1="323.2" y1="211.6" x2="323.2" y2="226.0"/>
<rect class="wg" x="341.6" y="225.7" width="41.0" height="6.4" />
<path class="wf" d="M394.5,230.3 L396.8,228.0 L412.5,228.0 L414.4,230.0 L412.5,232.2 L396.8,232.2 Z" />
<line class="w" x1="397.0" y1="231.0" x2="412.5" y2="231.0"/>
<rect class="l" x="285.9" y="164.2" width="50.3" height="37.2" />
<rect class="ll" x="287.0" y="165.3" width="48.1" height="35.0" />
<line class="ll" x1="311.0" y1="165.0" x2="311.0" y2="201.0"/>
<line class="ll" x1="314.0" y1="165.0" x2="314.0" y2="201.0"/>
<rect class="t" x="280.6" y="157.6" width="3.7" height="68.4" style="fill:#b4b4b4"/>
<line class="m" x1="280.6" y1="157.6" x2="280.6" y2="226.0"/>
<line class="l" x1="285.2" y1="157.6" x2="285.2" y2="226.0"/>
<circle class="w" cx="281.5" cy="208.9" r="0.9" />
<rect class="l" x="285.5" y="208.5" width="23.0" height="17.5" />
<line class="ll" x1="292.0" y1="208.5" x2="292.0" y2="226.0"/>
<line class="ll" x1="300.0" y1="208.5" x2="300.0" y2="226.0"/>
<rect class="t" x="307.0" y="211.0" width="3.0" height="15.0" style="fill:#aaa"/>
<rect class="m" x="243.4" y="219.3" width="23.1" height="6.7" />
<line class="l" x1="243.4" y1="219.3" x2="266.5" y2="226.0"/>
<line class="l" x1="243.4" y1="226.0" x2="266.5" y2="219.3"/>
<rect class="l" x="315.5" y="213.5" width="6.0" height="10.5" />
<line class="l" x1="315.5" y1="213.5" x2="321.5" y2="224.0"/>
<line class="l" x1="321.5" y1="213.5" x2="315.5" y2="224.0"/>
<rect class="ll" x="325.5" y="213.5" width="10.0" height="10.5" />
<path class="l" d="M261,154.6 A17,17 0 0 1 244,171.6" />
<path class="l" d="M261,154.6 A17.3,17.3 0 0 0 278.3,171.9" />
<line class="l" x1="242.7" y1="156.5" x2="279.0" y2="156.5"/>
<line class="l" x1="242.7" y1="153.5" x2="279.0" y2="153.5"/>
<line class="dl" x1="238.2" y1="178.0" x2="238.2" y2="215.6"/>
<line class="dl" x1="245.0" y1="178.0" x2="245.0" y2="215.6"/>
<path class="wf" d="M337.4,105.7 L378.6,105.7 L381.0,107.7 L391.5,155.4 L387.2,153.4 L376.2,109.5 L337.4,109.5 Z" />
<path class="wf" d="M339.2,131.5 L341.4,131.5 L349.6,153.4 L347.3,153.4 Z" />
<path class="wf" d="M363.2,157.4 L365.6,157.4 L374.0,179.5 L371.7,180.5 Z" />
<line class="l" x1="342.3" y1="180.5" x2="364.0" y2="180.5"/>
<line class="l" x1="342.3" y1="182.6" x2="364.0" y2="182.6"/>
<line class="l" x1="342.3" y1="184.7" x2="364.0" y2="184.7"/>
<line class="l" x1="342.3" y1="186.8" x2="364.0" y2="186.8"/>
<line class="l" x1="342.3" y1="188.9" x2="364.0" y2="188.9"/>
<line class="l" x1="342.3" y1="191.0" x2="364.0" y2="191.0"/>
<line class="l" x1="342.3" y1="193.1" x2="364.0" y2="193.1"/>
<line class="l" x1="342.3" y1="195.2" x2="364.0" y2="195.2"/>
<line class="l" x1="342.3" y1="197.3" x2="364.0" y2="197.3"/>
<path class="l" d="M351.5,179.5 A12.5,12.5 0 0 1 364,169.5" />
<path class="l" d="M354.5,179.5 A9.5,9.5 0 0 1 364,171.5" />
<line class="l" x1="364.0" y1="169.5" x2="372.0" y2="169.5"/>
<line class="l" x1="374.0" y1="158.0" x2="374.0" y2="178.5"/>
<line class="l" x1="376.5" y1="158.0" x2="376.5" y2="178.5"/>
<line class="l" x1="379.0" y1="158.0" x2="379.0" y2="178.5"/>
<line class="l" x1="381.5" y1="158.0" x2="381.5" y2="178.5"/>
<line class="l" x1="384.0" y1="158.0" x2="384.0" y2="178.5"/>
<line class="l" x1="386.5" y1="158.0" x2="386.5" y2="178.5"/>
<line class="l" x1="389.0" y1="158.0" x2="389.0" y2="178.5"/>
<line class="l" x1="391.5" y1="158.0" x2="391.5" y2="178.5"/>
<path class="l" d="M372.5,178.5 L393.0,178.5" />
<path class="l" d="M393.0,158.0 L393.0,178.5 L366.0,197.0" />
<path class="wf" d="M411,153.6 L450.5,153.6 C454.5,153.8 455,157 452.5,159.5 L409.8,203.4 L398.3,204.6 L426.7,174.7 C431.5,169 431,162 426,159.3 C424,158 422,157.6 420.5,157.6 L410.3,157.6 C408.6,156.6 409,154 411,153.6 Z" />
<path class="t" d="M401.5,203 L428.6,174.5 C433,169 432.6,162.5 428.5,159.3" />
<line class="w" x1="409.8" y1="203.4" x2="413.2" y2="203.4"/>
<line class="t" x1="413.2" y1="197.0" x2="413.2" y2="203.8"/>
<rect class="wg" x="413.2" y="203.6" width="38.3" height="2.0" />
<rect class="wg" x="451.3" y="205.0" width="19.5" height="1.3" />
<rect class="wg" x="483.3" y="204.6" width="16.4" height="1.5" />
<path class="w" d="M444.5,167.4 L506.2,167.4" />
<line class="m" x1="506.2" y1="167.4" x2="496.6" y2="204.6"/>
<line class="dl" x1="509.5" y1="168.0" x2="500.0" y2="205.5"/>
<line class="m" x1="467.6" y1="161.3" x2="467.6" y2="167.4"/>
<line class="m" x1="488.5" y1="161.3" x2="488.5" y2="167.4"/>
<line class="m" x1="509.4" y1="161.3" x2="509.4" y2="167.4"/>
<line class="l" x1="447.0" y1="161.3" x2="548.0" y2="161.3"/>
<line class="l" x1="432.6" y1="177.0" x2="471.4" y2="177.0"/>
<line class="l" x1="430.0" y1="181.4" x2="471.4" y2="181.4"/>
<line class="l" x1="426.4" y1="187.4" x2="471.4" y2="187.4"/>
<line class="l" x1="414.8" y1="197.8" x2="471.4" y2="197.8"/>
<line class="l" x1="414.0" y1="202.0" x2="471.4" y2="202.0"/>
<line class="l" x1="471.4" y1="193.0" x2="471.4" y2="204.0"/>
<path class="ll" d="M471.4,193 A10,10 0 0 1 481,203" />
<path class="l" d="M486.0,180.0 L490.5,174.5 L497.0,178.0 L492.5,184.5 Z" />
<path class="l" d="M490.0,191.0 L496.0,175.0 L503.0,178.0 L497.5,194.5 Z" />
<path class="t" d="M519.5,168.8 L537.2,177.2 L535.9,179.9 L518.2,171.5 Z" />
<path class="t" d="M512.5,183.3 L537.0,194.5 L535.9,196.9 L511.4,185.7 Z" />
<path class="t" d="M511.3,185.9 L535.8,197.1 L534.7,199.5 L510.2,188.3 Z" />
<path class="l" d="M504.1,201.9 L536.9,215.6 L532.4,226.0 L500.8,209.6 Z" />
<circle class="l" cx="514.5" cy="202.5" r="1.8" />
<circle class="w" cx="522.3" cy="215.2" r="1.7" />
<line class="dl" x1="529.5" y1="162.0" x2="529.5" y2="364.5"/>
<rect class="mask" x="450.5" y="206.3" width="4.2" height="136.0" />
<line class="t2" x1="450.7" y1="206.3" x2="450.7" y2="227.3"/>
<line class="l" x1="454.8" y1="206.3" x2="454.8" y2="227.3"/>
<line class="t2" x1="450.7" y1="240.0" x2="450.7" y2="332.0"/>
<line class="l" x1="454.8" y1="240.0" x2="454.8" y2="332.0"/>
<line class="t2" x1="450.7" y1="227.3" x2="455.0" y2="227.3"/>
<rect class="w" x="441.8" y="239.2" width="13.2" height="1.3" style="fill:#222;stroke-width:.6"/>
<rect class="w" x="441.8" y="299.1" width="13.2" height="1.3" style="fill:#222;stroke-width:.6"/>
<path class="ll" d="M441.8,239 A9,9 0 0 1 450.5,230.5" />
<path class="l" d="M441.8,300.5 A9,9 0 0 0 450.5,309.5" />
<line class="t2" x1="450.7" y1="259.5" x2="454.8" y2="259.5"/>
<line class="t2" x1="450.7" y1="279.5" x2="454.8" y2="279.5"/>
<line class="t2" x1="450.7" y1="314.0" x2="454.8" y2="314.0"/>
<line class="t2" x1="547.3" y1="161.0" x2="547.3" y2="365.0"/>
<line class="t2" x1="551.0" y1="161.0" x2="551.0" y2="365.0"/>
<line class="l" x1="556.0" y1="161.0" x2="556.0" y2="365.0"/>
<line class="m" x1="544.5" y1="181.0" x2="551.0" y2="181.0"/>
<line class="m" x1="544.5" y1="201.5" x2="551.0" y2="201.5"/>
<line class="m" x1="544.5" y1="222.2" x2="551.0" y2="222.2"/>
<line class="m" x1="544.5" y1="242.2" x2="551.0" y2="242.2"/>
<line class="m" x1="544.5" y1="262.3" x2="551.0" y2="262.3"/>
<line class="m" x1="544.5" y1="282.3" x2="551.0" y2="282.3"/>
<line class="m" x1="544.5" y1="302.8" x2="551.0" y2="302.8"/>
<line class="m" x1="544.5" y1="323.0" x2="551.0" y2="323.0"/>
<line class="m" x1="544.5" y1="343.3" x2="551.0" y2="343.3"/>
<rect class="l" x="470.0" y="240.5" width="11.7" height="10.6" />
<rect class="l" x="494.3" y="240.5" width="11.7" height="10.6" />
<path class="ll" d="M500.3,251.1 L500.3,245.5 L506.0,245.5" />
<rect class="l" x="518.7" y="240.5" width="11.7" height="10.6" />
<rect class="l" x="470.0" y="264.8" width="11.7" height="10.6" />
<path class="ll" d="M470.0,269.8 L475.0,269.8 L475.0,264.8" />
<rect class="l" x="494.3" y="264.8" width="11.7" height="10.6" />
<rect class="l" x="518.7" y="264.8" width="11.7" height="10.6" />
<path class="ll" d="M524.7,275.4 L524.7,269.8 L530.4,269.8" />
<rect class="l" x="470.0" y="288.6" width="11.7" height="10.6" />
<rect class="l" x="494.3" y="288.6" width="11.7" height="10.6" />
<path class="ll" d="M500.3,299.2 L500.3,293.6 L506.0,293.6" />
<rect class="l" x="518.7" y="288.6" width="11.7" height="10.6" />
<line class="l" x1="480.0" y1="325.7" x2="480.0" y2="339.8"/>
<line class="l" x1="488.0" y1="325.7" x2="488.0" y2="339.8"/>
<line class="l" x1="496.0" y1="325.7" x2="496.0" y2="339.8"/>
<line class="l" x1="504.0" y1="325.7" x2="504.0" y2="339.8"/>
<line class="l" x1="512.0" y1="325.7" x2="512.0" y2="339.8"/>
<line class="l" x1="520.0" y1="325.7" x2="520.0" y2="339.8"/>
<line class="l" x1="480.0" y1="325.7" x2="520.0" y2="325.7"/>
<line class="l" x1="480.0" y1="332.8" x2="520.0" y2="332.8"/>
<line class="l" x1="480.0" y1="339.8" x2="520.0" y2="339.8"/>
<path class="ll" d="M280.6,231.9 L271.9,267.5 L271.9,271.9 L339.3,290.8" />
<path class="l" d="M288.8,234.0 L367.7,256.2 L367.2,258.1 L288.2,236.0 Z" />
<path class="l" d="M282.7,248.4 L353.9,268.4 L352.8,272.3 L281.6,252.3 Z" style="fill:#e4e4e4"/>
<path class="l" d="M274.4,266.9 L342.7,286.1 L341.6,289.9 L273.3,270.7 Z" style="fill:#e4e4e4"/>
<path class="t" d="M282.4,249.4 L297.8,253.7 L297.2,255.6 L281.8,251.3 Z" />
<path class="t" d="M274.1,267.8 L290.4,272.4 L289.9,274.3 L273.5,269.7 Z" />
<path class="l" d="M287.8,237.4 L307.1,242.8 L306.5,244.7 L287.3,239.3 Z" />
<line class="l" x1="313.2" y1="243.2" x2="307.3" y2="255.1"/>
<line class="l" x1="317.3" y1="244.4" x2="311.4" y2="256.3"/>
<line class="l" x1="321.5" y1="245.5" x2="315.5" y2="257.4"/>
<line class="l" x1="325.6" y1="246.7" x2="319.7" y2="258.6"/>
<line class="l" x1="329.8" y1="247.8" x2="323.8" y2="259.8"/>
<line class="l" x1="333.9" y1="249.0" x2="328.0" y2="260.9"/>
<line class="l" x1="338.0" y1="250.2" x2="332.1" y2="262.1"/>
<line class="l" x1="342.2" y1="251.3" x2="336.2" y2="263.3"/>
<line class="l" x1="346.3" y1="252.5" x2="340.4" y2="264.4"/>
<line class="l" x1="350.5" y1="253.7" x2="344.5" y2="265.6"/>
<line class="l" x1="354.6" y1="254.8" x2="348.7" y2="266.8"/>
<line class="l" x1="358.7" y1="256.0" x2="352.8" y2="267.9"/>
<line class="l" x1="304.6" y1="259.0" x2="298.0" y2="273.3"/>
<line class="l" x1="308.6" y1="260.1" x2="301.9" y2="274.4"/>
<line class="l" x1="312.5" y1="261.2" x2="305.9" y2="275.5"/>
<line class="l" x1="316.5" y1="262.3" x2="309.8" y2="276.6"/>
<line class="l" x1="320.4" y1="263.4" x2="313.8" y2="277.7"/>
<line class="l" x1="324.4" y1="264.5" x2="317.7" y2="278.8"/>
<line class="l" x1="328.3" y1="265.6" x2="321.7" y2="279.9"/>
<line class="l" x1="332.3" y1="266.7" x2="325.6" y2="281.1"/>
<line class="l" x1="336.2" y1="267.8" x2="329.6" y2="282.2"/>
<line class="l" x1="340.1" y1="268.9" x2="333.5" y2="283.3"/>
<line class="l" x1="344.1" y1="270.0" x2="337.5" y2="284.4"/>
<line class="l" x1="310.4" y1="242.2" x2="294.6" y2="272.5"/>
<path class="ll" d="M340.7,289.6 L378.7,258.8 L376.0,256.5 L339.0,286.5 Z" />
<path class="l" d="M369.2,257.2 L397.7,232.7" />
<path class="l" d="M366.5,255.0 L394.5,231.5" />
<path class="l" d="M352.0,275.0 L369.2,257.2" />
<line class="dl" x1="370.0" y1="222.0" x2="398.3" y2="204.6"/>
<line class="dl" x1="384.0" y1="226.0" x2="409.0" y2="204.0"/>
<line class="dl" x1="414.5" y1="228.0" x2="441.0" y2="206.0"/>
<line class="dl" x1="394.0" y1="248.0" x2="414.0" y2="229.0"/>
<rect class="ll" x="413.2" y="206.0" width="5.0" height="22.0" />
<path class="w" d="M346.6,332.3 L350.0,332.3 L350.0,364.7 L371.9,364.7" />
<line class="w" x1="346.6" y1="332.3" x2="346.6" y2="368.5"/>
<rect class="l" x="352.6" y="333.5" width="17.0" height="29.5" />
<line class="t" x1="354.6" y1="336.0" x2="367.6" y2="336.0"/>
<line class="ll" x1="366.6" y1="337.0" x2="366.6" y2="361.0"/>
<path class="w" d="M371.9,332.3 L375.3,332.3 L375.3,364.7 L397.2,364.7" />
<line class="w" x1="371.9" y1="332.3" x2="371.9" y2="368.5"/>
<rect class="l" x="377.9" y="333.5" width="17.0" height="29.5" />
<line class="t" x1="379.9" y1="336.0" x2="392.9" y2="336.0"/>
<line class="ll" x1="391.9" y1="337.0" x2="391.9" y2="361.0"/>
<path class="w" d="M397.1,332.3 L400.5,332.3 L400.5,364.7 L422.4,364.7" />
<line class="w" x1="397.1" y1="332.3" x2="397.1" y2="368.5"/>
<rect class="l" x="403.1" y="333.5" width="17.0" height="29.5" />
<line class="t" x1="405.1" y1="336.0" x2="418.1" y2="336.0"/>
<line class="ll" x1="417.1" y1="337.0" x2="417.1" y2="361.0"/>
<path class="w" d="M421.9,364.7 L421.9,332.3 L454.5,332.3 L454.5,364.7" />
<path class="w" d="M425.3,364.7 L425.3,336.0 L430.0,336.0" />
<path class="w" d="M346.6,368.5 L429.5,368.5" />
<path class="wf" d="M430.0,336.5 L453.6,336.5 L453.6,364.7 L511.0,364.7 L511.0,368.6 L507.3,368.6 L507.3,376.5 L511.0,376.5 L511.0,380.4 L453.6,385.2 L453.6,443.6 L450.8,443.6 L450.8,438.9 L437.9,438.9 L437.9,443.6 L434.7,443.6 Z" />
<path class="wf" d="M432.9,339.5 L450.3,339.5 L450.3,364.7 L446.0,364.7 L446.0,368.5 L450.0,368.5 L450.0,371.0 L454.5,371.0 L454.5,368.5 L496.0,368.5 L496.0,377.6 L454.5,381.3 L454.5,378.5 L450.0,378.5 L450.0,381.5 L446.0,381.5 L446.0,385.0 L450.0,385.0 L450.0,429.0 L436.8,429.0 L434.9,385.0 L438.5,385.0 L438.5,381.5 L435.0,381.5 L434.5,368.5 L438.5,368.5 L438.5,364.7 L434.5,364.7 Z" />
<path class="l" d="M439,376.5 A6,6 0 0 0 445,370.5" />
<path class="wf" d="M423.8,368.5 L426.8,368.5 L431.2,413.4 L428.1,413.4 Z" />
<line class="w" x1="350.4" y1="368.5" x2="350.4" y2="416.2"/>
<line class="w" x1="352.6" y1="368.5" x2="352.6" y2="416.2"/>
<rect class="t" x="345.8" y="368.5" width="4.6" height="47.7" />
<line class="t" x1="345.8" y1="374.5" x2="350.4" y2="374.5"/>
<line class="t" x1="345.8" y1="380.5" x2="350.4" y2="380.5"/>
<line class="t" x1="345.8" y1="386.5" x2="350.4" y2="386.5"/>
<line class="t" x1="345.8" y1="392.5" x2="350.4" y2="392.5"/>
<line class="t" x1="345.8" y1="398.5" x2="350.4" y2="398.5"/>
<line class="t" x1="345.8" y1="404.5" x2="350.4" y2="404.5"/>
<line class="t" x1="345.8" y1="410.5" x2="350.4" y2="410.5"/>
<rect class="wg" x="344.7" y="415.3" width="17.8" height="3.2" />
<rect class="wg" x="377.2" y="415.3" width="35.3" height="3.2" />
<path class="w" d="M370.6,368.5 L370.6,373.8 L397.0,373.8" />
<line class="t" x1="372.0" y1="372.0" x2="396.0" y2="372.0"/>
<line class="w" x1="395.1" y1="373.8" x2="395.1" y2="415.3"/>
<line class="w" x1="397.4" y1="368.5" x2="397.4" y2="415.3"/>
<rect class="l" x="371.0" y="376.0" width="6.5" height="25.0" />
<line class="ll" x1="374.3" y1="376.0" x2="374.3" y2="401.0"/>
<line class="ll" x1="355.0" y1="370.0" x2="355.0" y2="415.0"/>
<line class="ll" x1="357.5" y1="370.0" x2="357.5" y2="415.0"/>
<line class="l" x1="353.0" y1="392.0" x2="358.0" y2="392.0"/>
<line class="dl" x1="353.0" y1="372.0" x2="424.0" y2="389.0"/>
<line class="l" x1="362.5" y1="417.0" x2="377.2" y2="417.0"/>
<line class="l" x1="412.5" y1="417.0" x2="428.0" y2="417.0"/>
<rect class="t" x="318.5" y="357.5" width="2.2" height="59.5" style="fill:#777"/>
<rect class="l" x="320.7" y="357.5" width="7.3" height="59.5" />
<line class="l" x1="320.7" y1="363.5" x2="328.0" y2="363.5"/>
<line class="l" x1="320.7" y1="369.5" x2="328.0" y2="369.5"/>
<line class="l" x1="320.7" y1="375.5" x2="328.0" y2="375.5"/>
<line class="l" x1="320.7" y1="381.5" x2="328.0" y2="381.5"/>
<line class="l" x1="320.7" y1="387.5" x2="328.0" y2="387.5"/>
<line class="l" x1="320.7" y1="393.5" x2="328.0" y2="393.5"/>
<line class="l" x1="320.7" y1="399.5" x2="328.0" y2="399.5"/>
<line class="l" x1="320.7" y1="405.5" x2="328.0" y2="405.5"/>
<line class="l" x1="320.7" y1="411.5" x2="328.0" y2="411.5"/>
<line class="m" x1="318.5" y1="357.5" x2="329.0" y2="357.5"/>
<line class="m" x1="318.5" y1="417.0" x2="329.0" y2="417.0"/>
<line class="ll" x1="329.0" y1="362.0" x2="346.0" y2="362.0"/>
<rect class="l" x="407.5" y="380.0" width="5.0" height="5.5" />
<rect class="l" x="407.5" y="393.5" width="5.0" height="5.5" />
<rect class="l" x="369.5" y="424.0" width="5.0" height="5.5" />
<rect class="l" x="388.5" y="425.0" width="5.0" height="5.5" />
<path class="l" d="M328.0,432.0 L406.8,438.2 L421.5,491.0 L417.5,492.5 L403.5,443.0 L328.0,437.0 Z" />
<path class="ll" d="M344.0,418.5 L344.0,434.0" />
<line class="ll" x1="344.0" y1="429.0" x2="400.0" y2="435.0"/>
<line class="l" x1="420.5" y1="484.0" x2="431.0" y2="482.5"/>
<path class="t" d="M431.2,413.4 L439.2,580.0" />
<path class="l" d="M428.5,436.0 L436.0,580.0" />
<path class="t" d="M319.3,568.0 L324.3,580.0 L439.2,580.0" />
<path class="t" d="M203.0,177.0 L198.8,224.8 L193.9,279.5" />
<path class="l" d="M205.5,177.0 L201.3,224.8" />
<path class="l" d="M196,177.5 A7,7 0 0 0 203,184.5" />
<rect class="t" x="200.9" y="225.1" width="14.6" height="68.2" />
<line class="l" x1="208.2" y1="225.1" x2="208.2" y2="293.3"/>
<line class="ll" x1="217.5" y1="225.1" x2="217.5" y2="256.0"/>
<line class="l" x1="200.9" y1="228.5" x2="215.5" y2="228.5"/>
<line class="l" x1="200.9" y1="231.9" x2="215.5" y2="231.9"/>
<line class="l" x1="200.9" y1="235.3" x2="215.5" y2="235.3"/>
<line class="l" x1="200.9" y1="238.7" x2="215.5" y2="238.7"/>
<line class="l" x1="200.9" y1="242.2" x2="215.5" y2="242.2"/>
<line class="l" x1="200.9" y1="245.6" x2="215.5" y2="245.6"/>
<line class="l" x1="200.9" y1="249.0" x2="215.5" y2="249.0"/>
<line class="l" x1="200.9" y1="252.4" x2="215.5" y2="252.4"/>
<line class="l" x1="200.9" y1="255.8" x2="215.5" y2="255.8"/>
<line class="l" x1="200.9" y1="259.2" x2="215.5" y2="259.2"/>
<line class="l" x1="200.9" y1="262.6" x2="215.5" y2="262.6"/>
<line class="l" x1="200.9" y1="266.0" x2="215.5" y2="266.0"/>
<line class="l" x1="200.9" y1="269.4" x2="215.5" y2="269.4"/>
<line class="l" x1="200.9" y1="272.8" x2="215.5" y2="272.8"/>
<line class="l" x1="200.9" y1="276.2" x2="215.5" y2="276.2"/>
<line class="l" x1="200.9" y1="279.7" x2="215.5" y2="279.7"/>
<line class="l" x1="200.9" y1="283.1" x2="215.5" y2="283.1"/>
<line class="l" x1="200.9" y1="286.5" x2="215.5" y2="286.5"/>
<line class="l" x1="200.9" y1="289.9" x2="215.5" y2="289.9"/>
<path class="wf" d="M193.1,279.9 L195.8,279.9 L193.0,334.8 L229.5,334.8 L246.0,253.0 L248.7,253.0 L231.7,337.6 L190.1,337.6 Z" />
<path class="wg" d="M217.0,256.0 L218.9,256.0 L218.9,295.6 L196.0,295.6 L196.0,293.6 L217.0,293.6 Z" />
<line class="l" x1="218.9" y1="256.0" x2="243.0" y2="256.0"/>
<rect class="l" x="227.4" y="256.0" width="10.5" height="7.4" />
<rect class="l" x="231.9" y="265.0" width="6.0" height="6.0" />
<rect class="ll" x="196.1" y="295.6" width="22.3" height="8.6" />
<line class="l" x1="196.0" y1="295.6" x2="236.5" y2="295.6"/>
<circle class="l" cx="216.0" cy="316.5" r="1.8" />
<line class="l" x1="194.0" y1="323.0" x2="231.0" y2="323.0"/>
<path class="l" d="M241.5,230.5 A10.5,10.5 0 0 0 252,241" />
<path class="l" d="M241.5,251.5 A10.5,10.5 0 0 1 252,241" />
<line class="t" x1="255.7" y1="230.7" x2="250.5" y2="253.0"/>
<line class="l" x1="251.5" y1="253.0" x2="235.5" y2="337.6"/>
<path class="w" d="M190.1,337.6 L188.6,348.0 L191.8,348.0 L192.6,337.6" />
<path class="t" d="M191.3,342.0 L222.5,342.0 L212.5,394.5 L187.5,392.0 Z" />
<line class="l" x1="207.0" y1="342.0" x2="200.0" y2="393.0"/>
<line class="l" x1="191.0" y1="345.3" x2="221.8" y2="345.5"/>
<line class="l" x1="190.8" y1="348.7" x2="221.2" y2="349.0"/>
<line class="l" x1="190.5" y1="352.0" x2="220.5" y2="352.5"/>
<line class="l" x1="190.3" y1="355.3" x2="219.8" y2="356.0"/>
<line class="l" x1="190.0" y1="358.7" x2="219.2" y2="359.5"/>
<line class="l" x1="189.8" y1="362.0" x2="218.5" y2="363.0"/>
<line class="l" x1="189.5" y1="365.3" x2="217.8" y2="366.5"/>
<line class="l" x1="189.3" y1="368.7" x2="217.2" y2="370.0"/>
<line class="l" x1="189.0" y1="372.0" x2="216.5" y2="373.5"/>
<line class="l" x1="188.8" y1="375.3" x2="215.8" y2="377.0"/>
<line class="l" x1="188.5" y1="378.7" x2="215.2" y2="380.5"/>
<line class="l" x1="188.3" y1="382.0" x2="214.5" y2="384.0"/>
<line class="l" x1="188.0" y1="385.3" x2="213.8" y2="387.5"/>
<line class="l" x1="187.8" y1="388.7" x2="213.2" y2="391.0"/>
<path class="ll" d="M187.5,344.0 L184.5,344.0 L182.0,399.0 L187.0,399.0" />
<path class="l" d="M212.5,394.5 L225.0,395.5" />
<path class="t" d="M225,342 C223,355 222.5,370 224,380 C226,390 232,400 240,416 L253,442 L288,513 L319.3,568" />
<line class="t" x1="224.0" y1="371.0" x2="229.0" y2="369.2"/>
<line class="t" x1="230.0" y1="395.5" x2="235.0" y2="393.7"/>
<line class="t" x1="243.0" y1="420.0" x2="248.0" y2="418.2"/>
<line class="t" x1="254.5" y1="443.0" x2="259.5" y2="441.2"/>
<line class="t" x1="268.0" y1="470.5" x2="273.0" y2="468.7"/>
<line class="t" x1="281.0" y1="497.5" x2="286.0" y2="495.7"/>
<ellipse class="t" cx="239.3" cy="368.3" rx="16.3" ry="5.2" transform="rotate(-45 239.3 368.3)"/>
<ellipse class="wf" cx="242" cy="365.5" rx="15.6" ry="5.6" transform="rotate(-45 242 365.5)"/>
<circle class="m" cx="302.2" cy="547.9" r="18.6" />
<line class="m" x1="302.2" y1="547.9" x2="311.5" y2="564.0"/>
<line class="m" x1="302.2" y1="547.9" x2="283.6" y2="547.9"/>
<line class="m" x1="302.2" y1="547.9" x2="311.5" y2="531.8"/>
<circle class="t" cx="302.2" cy="547.9" r="2.2" />
<path class="t" d="M268.6,525.3 L303.3,508.4 L304.1,510.2 L269.4,527.1 Z" style="fill:#bbb"/>
<path class="t" d="M291.7,573.6 L328.6,557.1 L329.4,558.9 L292.5,575.4 Z" style="fill:#bbb"/>
<line class="m" x1="287.0" y1="518.5" x2="292.0" y2="531.0"/>
<line class="t" x1="321.0" y1="562.5" x2="316.0" y2="549.0"/>
<path class="l" d="M280,531 A13,13 0 0 0 290,546" />
<circle class="m" cx="390.0" cy="584.1" r="18.1" />
<line class="m" x1="390.0" y1="584.1" x2="408.1" y2="584.1"/>
<line class="m" x1="390.0" y1="584.1" x2="380.9" y2="599.8"/>
<line class="m" x1="390.0" y1="584.1" x2="380.9" y2="568.4"/>
<circle class="t" cx="390.0" cy="584.1" r="2.2" />
<rect class="t" x="354.3" y="564.3" width="2.2" height="40.0" style="fill:#999"/>
<rect class="t" x="409.6" y="564.3" width="2.2" height="40.0" style="fill:#999"/>
<line class="dl" x1="356.5" y1="564.3" x2="409.6" y2="564.3"/>
<line class="dl" x1="356.5" y1="604.3" x2="409.6" y2="604.3"/>
<line class="m" x1="356.5" y1="584.0" x2="371.9" y2="584.0"/>
<path class="l" d="M357,598 A13,13 0 0 0 370,585" />
<line class="t" x1="411.8" y1="580.0" x2="439.2" y2="580.0"/>
<rect class="l" x="400.0" y="507.0" width="12.5" height="12.5" />
<rect class="l" x="406.0" y="502.0" width="12.0" height="12.0" />
<rect class="l" x="410.0" y="528.0" width="12.5" height="12.5" />
<rect class="l" x="416.0" y="532.0" width="12.5" height="12.5" />
<circle class="m" cx="311.8" cy="417.0" r="1.5" style="stroke-width:1.2;fill:#ddd"/>
<circle class="m" cx="305.5" cy="427.8" r="1.5" style="stroke-width:1.2;fill:#ddd"/>
<circle class="m" cx="323.0" cy="495.0" r="1.5" style="stroke-width:1.2;fill:#ddd"/>
<circle class="m" cx="316.8" cy="505.3" r="1.5" style="stroke-width:1.2;fill:#ddd"/>
<circle class="m" cx="341.0" cy="562.3" r="1.5" style="stroke-width:1.2;fill:#ddd"/>
<circle class="m" cx="346.8" cy="566.0" r="1.5" style="stroke-width:1.2;fill:#ddd"/>
<line class="t" x1="315.8" y1="414.0" x2="295.5" y2="433.8"/>
<line class="l" x1="317.8" y1="416.0" x2="297.5" y2="435.8"/>
<line class="t" x1="327.0" y1="492.0" x2="306.8" y2="511.3"/>
<line class="l" x1="329.0" y1="494.0" x2="308.8" y2="513.3"/>
<path class="dl" d="M318.5,390 C305,395 296,405 296,420 C296,430 303,433 313,423" />
<path class="dl" d="M291.5,443 C300,441 310,437 313,430 C316,425 314,420 310,418" />
<path class="dl" d="M291.5,443.0 L305.5,427.8" />
<path class="dl" d="M302.0,490.0 L340.0,490.0 L335.0,498.0 L352.0,545.0" />
<path class="dl" d="M302.0,490.0 L318.0,510.0 L322.0,545.0" />
<path class="dl" d="M322.0,490.0 L352.0,535.0" />
<path class="dl" d="M307.0,500.0 L325.0,560.0" />
<path class="dl" d="M318.0,543.0 L352.0,543.0 L376.0,543.0 L382.0,545.0" />
<path class="dl" d="M345.0,543.0 L340.0,552.0 L352.0,558.0" />
<path class="dl" d="M352.0,543.0 L372.0,543.0 L363.0,560.0 L356.0,566.0" />
<line class="l" x1="340.0" y1="490.0" x2="342.0" y2="487.0"/>
<line class="l" x1="323.0" y1="495.0" x2="340.0" y2="488.0"/>
<path class="d" d="M163.0,154.0 L31.8,154.0 L31.8,574.8 L453.8,574.8 L453.8,443.6" />
<path class="d" d="M163.0,172.7 L31.8,164.0" />
<path class="d" d="M226.6,96.9 L232.0,20.0 L587.3,20.0 L587.3,374.5 L511.0,381.0" />
<path class="d" d="M242.4,96.9 L242.5,20.0" />
<path class="d" d="M511.0,364.6 L587.3,364.6" />
<path class="d" d="M225.0,395.8 L247.5,449.5 L238.8,457.0 L253.0,492.0 L260.5,515.5 L311.8,651.8 L445.5,603.0 L434.7,443.6" />
<path class="d" d="M439.5,575.0 L441.5,604.0" />
<path class="l" d="M0,268.5 C14,290 25.5,315 26,345 L26,548 C26,570 14,583 0,586" />
<path class="ll" d="M445.7,603.3 L530,571 C545,565.5 556,563.5 572,562.5" />
</svg></body></html>
